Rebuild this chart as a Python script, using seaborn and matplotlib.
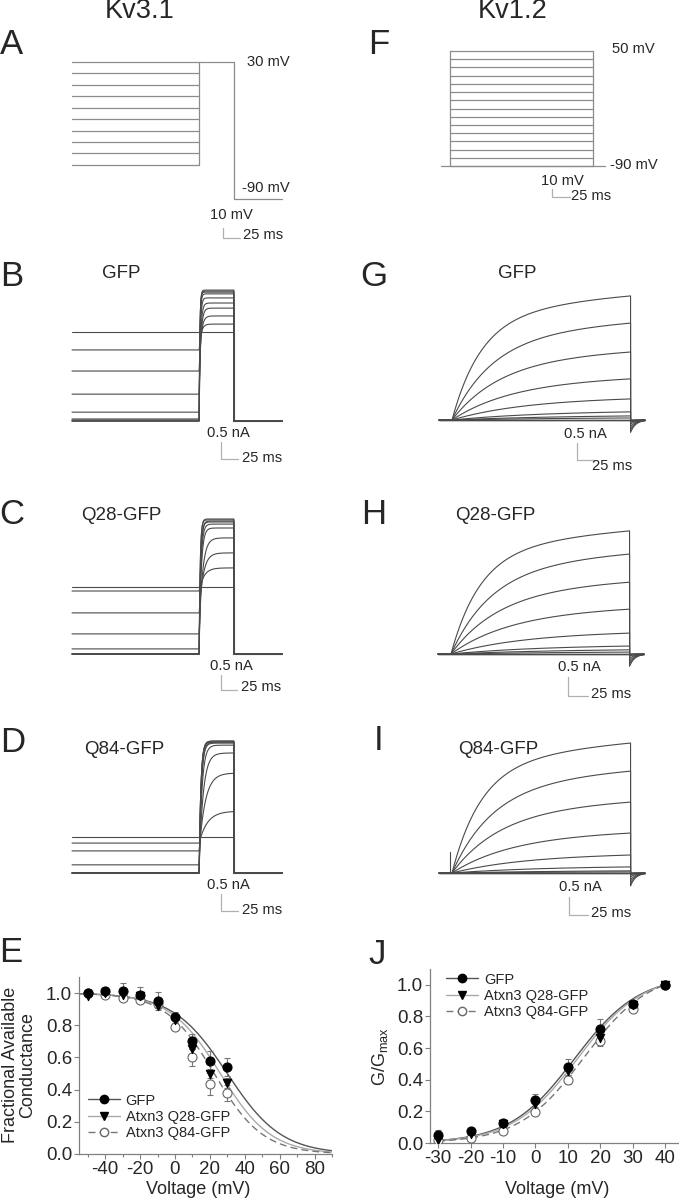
import numpy as np
import pandas as pd
import matplotlib
matplotlib.use("Agg")
import matplotlib.pyplot as plt
from matplotlib.lines import Line2D
import seaborn as sns

sns.set_style("ticks")
plt.rcParams['font.family'] = ['Liberation Sans', 'DejaVu Sans']
plt.rcParams['axes.unicode_minus'] = False
plt.rcParams['mathtext.fontset'] = 'custom'
plt.rcParams['mathtext.rm'] = 'Liberation Sans'

W, H = 679, 1199

# ---------------- data ----------------
# A: Kv3.1 prepulse protocol (mV), times in ms
kv31_prepulse_mv = [-60, -50, -40, -30, -20, -10, 0, 10, 20, 30]
kv31_test_mv = 30
hold_mv = -90
kv31_t_on, kv31_t_off, kv31_t_end = 187, 238, 309

# F: Kv1.2 step protocol (mV)
kv12_step_mv = [-90, -80, -70, -60, -50, -40, -30, -20, -10, 0, 10, 20, 30, 40, 50]
kv12_pulse_ms = 200

# B-D: Kv3.1 currents (nA) during prepulse and at end of test pulse, rise tau (ms)
b_pre = [2.62, 2.09, 1.47, 0.79, 0.26, 0.06, 0.03, 0.0, 0.0, 0.0]
b_test = [2.62, 2.85, 3.09, 3.32, 3.47, 3.62, 3.74, 3.79, 3.82, 3.85]
b_tau = [1, 3, 3, 2.5, 2, 1.5, 1.2, 1, 1, 1]
c_pre = [2.23, 2.10, 1.37, 0.67, 0.17, 0.0, 0.0, 0.0, 0.0, 0.0]
c_test = [2.23, 2.87, 3.37, 3.87, 4.20, 4.33, 4.40, 4.43, 4.47, 4.50]
c_tau = [1, 7, 6, 5, 3, 2.5, 2, 2, 1.5, 1.5]
d_pre = [1.06, 0.88, 0.65, 0.24, 0.0, 0.0, 0.0, 0.0, 0.0, 0.0]
d_test = [1.06, 1.82, 2.94, 3.53, 3.76, 3.82, 3.85, 3.85, 3.88, 3.88]
d_tau = [1, 12, 9, 6, 4, 3, 3, 2.5, 2.5, 2.5]

# G-I: Kv1.2 current at end of 250 ms step (nA), largest first; activation tau (ms)
g_amp = [3.65, 2.85, 2.00, 1.21, 0.62, 0.24, 0.12, 0.06]
h_amp = [3.24, 2.63, 1.89, 1.18, 0.55, 0.21, 0.11, 0.05]
i_amp = [3.61, 2.83, 1.97, 1.11, 0.50, 0.17, 0.06, 0.03]
i_artifact_nA = 0.58          # capacitive spike at step onset in panel I
kv12_tau = [40, 55, 65, 80, 95, 120, 150, 180]
kv12_T = 248

# E: inactivation
e_volt = [-50, -40, -30, -20, -10, 0, 10, 20, 30]
e_gfp = [1.00, 1.01, 1.01, 0.99, 0.95, 0.85, 0.70, 0.58, 0.54]
e_gfp_err = [0.02, 0.03, 0.05, 0.05, 0.055, 0.035, 0.045, 0.06, 0.055]
e_q28 = [0.985, 1.0, 0.99, 0.98, 0.92, 0.83, 0.65, 0.50, 0.44]
e_q28_err = [0.01, 0.01, 0.01, 0.01, 0.01, 0.02, 0.03, 0.03, 0.03]
e_q84 = [1.00, 0.99, 0.97, 0.96, 0.93, 0.79, 0.60, 0.435, 0.38]
e_q84_err = [0.01, 0.01, 0.02, 0.02, 0.02, 0.02, 0.055, 0.07, 0.05]
e_fit = {'GFP': (30, 15.5), 'Q28': (26, 14.5), 'Q84': (22.5, 14)}

# J: activation
j_volt = [-30, -20, -10, 0, 10, 20, 30, 40]
j_gfp = [0.05, 0.075, 0.125, 0.27, 0.48, 0.72, 0.88, 1.0]
j_gfp_err = [0.03, 0.015, 0.02, 0.04, 0.05, 0.065, 0.015, 0.01]
j_q28 = [0.02, 0.055, 0.12, 0.245, 0.455, 0.665, 0.87, 1.0]
j_q28_err = [0.02, 0.01, 0.01, 0.03, 0.04, 0.03, 0.01, 0.0]
j_q84 = [0.02, 0.03, 0.075, 0.195, 0.40, 0.645, 0.85, 1.0]
j_q84_err = [0.01, 0.01, 0.01, 0.02, 0.03, 0.03, 0.015, 0.0]
j_fit = {'GFP': (12, 10), 'Q28': (13, 10), 'Q84': (15, 10)}

legend_labels = ['GFP', 'Atxn3 Q28-GFP', 'Atxn3 Q84-GFP']

# ---------------- helpers ----------------
fig = plt.figure(figsize=(W / 100, H / 100), dpi=100)
over = fig.add_axes([0, 0, 1, 1])
over.set_xlim(0, W)
over.set_ylim(H, 0)
over.axis('off')

TRACE = '#4a4a4a'
PROTO = '#8c8c8c'
BAR = '#b0b0b0'


def panel_ax(rect, x0, y0, sx, sy):
    L, T, R, B = rect
    ax = fig.add_axes([L / W, 1 - B / H, (R - L) / W, (B - T) / H])
    ax.set_xlim((L - x0) / sx, (R - x0) / sx)
    ax.set_ylim((y0 - B) / sy, (y0 - T) / sy)
    ax.axis('off')
    return ax


def txt(x, y, s, size, **kw):
    over.text(x, y, s, fontsize=size, ha=kw.pop('ha', 'center'), va=kw.pop('va', 'center'), **kw)


def scalebar(pts, color=BAR):
    xs, ys = zip(*pts)
    over.plot(xs, ys, color=color, lw=0.9, solid_joinstyle='miter')


def kv31_df(pre, test, tau):
    rows = []
    for k, (ip, it, ta) in enumerate(zip(pre, test, tau)):
        tt = np.linspace(kv31_t_on, kv31_t_off, 80)
        ii = ip + (it - ip) * (1 - np.exp(-(tt - kv31_t_on) / ta))
        t = np.concatenate([[0, kv31_t_on], tt, [kv31_t_off, kv31_t_end]])
        i = np.concatenate([[ip, ip], ii, [0, 0]])
        rows.append(pd.DataFrame({'t': t, 'i': i, 'sweep': k}))
    return pd.concat(rows, ignore_index=True)


def kv12_df(amps, artifact=0.0):
    rows = []
    n_zero = len(kv12_step_mv) - len(amps)
    for k, amp in enumerate(list(amps) + [0.0] * n_zero):
        tau = kv12_tau[min(k, len(kv12_tau) - 1)]
        tt = np.linspace(0, kv12_T, 150)
        shape = 0.7 * (1 - np.exp(-tt / tau)) + 0.3 * (1 - np.exp(-tt / 300))
        shape = shape / shape[-1]
        tl = np.linspace(kv12_T, 268, 40)
        tail = -0.1 * amp * np.exp(-(tl - kv12_T) / 7)
        t = np.concatenate([[-18, 0], tt, tl])
        i = np.concatenate([[0, 0], amp * shape, tail])
        rows.append(pd.DataFrame({'t': t, 'i': i, 'sweep': k}))
    if artifact:
        rows.append(pd.DataFrame({'t': [-3, -3], 'i': [0, artifact], 'sweep': 99}))
    return pd.concat(rows, ignore_index=True)


def draw_traces(ax, df):
    sns.lineplot(data=df, x='t', y='i', units='sweep', estimator=None, sort=False,
                 color=TRACE, lw=0.8, ax=ax, legend=False)
    ax.axis('off')


def draw_proto(ax, df):
    sns.lineplot(data=df, x='t', y='v', units='sweep', estimator=None, sort=False,
                 color=PROTO, lw=0.9, ax=ax, legend=False)
    ax.axis('off')


# ---------------- A: Kv3.1 protocol ----------------
axA = panel_ax((0, 40, 340, 250), 72, 62 + 30 * 1.142, 0.68, 1.142)
rows = [pd.DataFrame({'t': [0, kv31_t_on], 'v': [v, v], 'sweep': k})
        for k, v in enumerate(kv31_prepulse_mv)]
rows.append(pd.DataFrame({'t': [kv31_t_on, kv31_t_on, kv31_t_off, kv31_t_off, kv31_t_end],
                          'v': [min(kv31_prepulse_mv), kv31_test_mv, kv31_test_mv, hold_mv, hold_mv],
                          'sweep': len(kv31_prepulse_mv)}))
draw_proto(axA, pd.concat(rows, ignore_index=True))

# ---------------- F: Kv1.2 protocol ----------------
axF = panel_ax((340, 40, 679, 250), 450, 166 - 90 * 0.821, 0.715, 0.821)
rows = [pd.DataFrame({'t': [0, kv12_pulse_ms], 'v': [v, v], 'sweep': k})
        for k, v in enumerate(kv12_step_mv)]
vmax = max(kv12_step_mv)
rows.append(pd.DataFrame({'t': [-13, 217], 'v': [hold_mv, hold_mv], 'sweep': 100}))
rows.append(pd.DataFrame({'t': [0, 0], 'v': [hold_mv, vmax], 'sweep': 101}))
rows.append(pd.DataFrame({'t': [kv12_pulse_ms, kv12_pulse_ms], 'v': [hold_mv, vmax], 'sweep': 102}))
draw_proto(axF, pd.concat(rows, ignore_index=True))

# ---------------- B-D, G-I: current traces ----------------
draw_traces(panel_ax((0, 260, 340, 470), 72, 421, 0.68, 34), kv31_df(b_pre, b_test, b_tau))
draw_traces(panel_ax((0, 490, 340, 700), 72, 654, 0.68, 30), kv31_df(c_pre, c_test, c_tau))
draw_traces(panel_ax((0, 720, 340, 930), 72, 873, 0.68, 34), kv31_df(d_pre, d_test, d_tau))
draw_traces(panel_ax((340, 260, 679, 470), 452, 420, 0.72, 34), kv12_df(g_amp))
draw_traces(panel_ax((340, 490, 679, 700), 451, 654, 0.72, 38), kv12_df(h_amp))
draw_traces(panel_ax((340, 720, 679, 930), 452, 873, 0.72, 36), kv12_df(i_amp, i_artifact_nA))

# ---------------- texts ----------------
txt(140, 11, 'Kv3.1', 19.5)
txt(513, 11, 'Kv1.2', 19.5)
for s, x, y in [('A', 11, 45), ('F', 379, 45), ('B', 12, 277), ('G', 374, 276),
                ('C', 12, 515), ('H', 374, 515), ('D', 13, 742), ('I', 379, 740),
                ('E', 11, 953), ('J', 377, 955)]:
    txt(x, y, s, 25)
for s, x, y in [('GFP', 121, 274), ('GFP', 517, 274), ('Q28-GFP', 121, 516),
                ('Q28-GFP', 495, 516), ('Q84-GFP', 124, 750), ('Q84-GFP', 498, 750)]:
    txt(x, y, s, 13.5)

fs = 10.6
txt(268, 62, '30 mV', fs); txt(266, 188, '-90 mV', fs)
txt(231, 215, '10 mV', fs); txt(263, 235, '25 ms', fs)
scalebar([(223, 228), (223, 238), (240, 238)])
txt(633, 49, '50 mV', fs); txt(634, 165, '-90 mV', fs)
txt(562, 181, '10 mV', fs); txt(591, 196, '25 ms', fs)
scalebar([(552, 189), (552, 197), (570, 197)])

for nx, ny, pts, mx, my in [
        (228, 433, [(221, 442), (221, 459), (238, 459)], 262, 458),
        (231, 666, [(221, 675), (221, 690), (237, 690)], 261, 687),
        (228, 885, [(221, 894), (221, 911), (238, 911)], 262, 910),
        (585, 434, [(577, 443), (577, 460), (595, 460)], 612, 466),
        (579, 667, [(568, 677), (568, 696), (588, 696)], 611, 694),
        (580, 887, [(569, 897), (569, 915), (588, 915)], 611, 913)]:
    txt(nx, ny, '0.5 nA', fs)
    scalebar(pts)
    txt(mx, my, '25 ms', fs)

# ---------------- E & J: summary plots ----------------
styles = {
    'GFP': dict(marker='o', mfc='black', mec='black', ms=6.5, color='#555555', ls='-'),
    'Q28': dict(marker='v', mfc='black', mec='black', ms=6, color='#aaaaaa', ls='-'),
    'Q84': dict(marker='o', mfc='white', mec='#666666', ms=6.5, color='#777777', ls=(0, (5, 3))),
}


def summary_ax(rect, xlim, volt, groups, fits, vgrid, fitfun, xmajor, xminor):
    L, T, R, B = rect
    ax = fig.add_axes([L / W, 1 - B / H, (R - L) / W, (B - T) / H])
    for key in ['GFP', 'Q28', 'Q84']:
        st = styles[key]
        vh, k = fits[key]
        fdf = pd.DataFrame({'v': vgrid, 'g': fitfun(vgrid, vh, k)})
        sns.lineplot(data=fdf, x='v', y='g', color=st['color'], lw=1.0, ax=ax,
                     linestyle=st['ls'], legend=False)
    for key in ['Q84', 'Q28', 'GFP']:
        st = styles[key]
        mean, err = groups[key]
        ax.errorbar(volt, mean, yerr=err, fmt='none', ecolor='#777777', elinewidth=0.8,
                    capsize=2.5, capthick=0.8, zorder=3)
        sns.scatterplot(x=volt, y=mean, marker=st['marker'], s=st['ms'] ** 2,
                        facecolor=st['mfc'], edgecolor=st['mec'], linewidth=0.8, ax=ax, zorder=4)
    ax.set_xlim(*xlim)
    ax.set_ylim(0, 1.1)
    ax.set_xticks(xmajor)
    ax.set_xticks(xminor, minor=True)
    ax.set_yticks([0, 0.2, 0.4, 0.6, 0.8, 1.0])
    ax.set_yticklabels(['0.0', '0.2', '0.4', '0.6', '0.8', '1.0'])
    ax.set_xlabel('')
    ax.set_ylabel('')
    for sp in ['top', 'right']:
        ax.spines[sp].set_visible(False)
    for sp in ['left', 'bottom']:
        ax.spines[sp].set_color('#808080')
        ax.spines[sp].set_linewidth(0.9)
    ax.tick_params(which='major', direction='out', length=3.5, width=0.8, color='#808080',
                   labelsize=13.5, pad=1.5)
    ax.tick_params(which='minor', direction='out', length=2, width=0.8, color='#808080')
    ax.patch.set_alpha(0)
    return ax


def inact(v, vh, k):
    return 1 / (1 + np.exp((v - vh) / k))


def act_norm(v, vh, k):
    return (1 / (1 + np.exp((vh - v) / k))) / (1 / (1 + np.exp((vh - 40) / k)))


axE = summary_ax((79, 977, 332, 1154), (-55, 90), e_volt,
                 {'GFP': (e_gfp, e_gfp_err), 'Q28': (e_q28, e_q28_err), 'Q84': (e_q84, e_q84_err)},
                 e_fit, np.linspace(-55, 90, 300), inact,
                 [-40, -20, 0, 20, 40, 60, 80], [-50, -30, -10, 10, 30, 50, 70, 90])
axJ = summary_ax((430, 969, 678, 1143), (-32.5, 44), j_volt,
                 {'GFP': (j_gfp, j_gfp_err), 'Q28': (j_q28, j_q28_err), 'Q84': (j_q84, j_q84_err)},
                 j_fit, np.linspace(-30, 40, 300), act_norm,
                 [-30, -20, -10, 0, 10, 20, 30, 40], [])

handles = [Line2D([], [], color=styles[k]['color'], ls=styles[k]['ls'], lw=1.0,
                  marker=styles[k]['marker'], mfc=styles[k]['mfc'], mec=styles[k]['mec'],
                  ms=styles[k]['ms'] - 0.5) for k in ['GFP', 'Q28', 'Q84']]
for ax, loc, anchor in [(axE, 'lower left', (0.0, 0.03)), (axJ, 'upper left', (0.03, 1.03))]:
    ax.legend(handles, legend_labels, loc=loc, bbox_to_anchor=anchor, frameon=False,
              fontsize=10.5, handlelength=2.2, handletextpad=0.4, labelspacing=0.15,
              borderaxespad=0.2)

txt(198, 1190, 'Voltage (mV)', 13)
txt(557, 1190, 'Voltage (mV)', 13)
txt(19, 1065, 'Fractional Available\nConductance', 13, rotation=90, linespacing=1.0)
txt(380, 1057, r'G/G$_{\mathrm{max}}$', 13, rotation=90)

fig.savefig('out.png', dpi=100)
